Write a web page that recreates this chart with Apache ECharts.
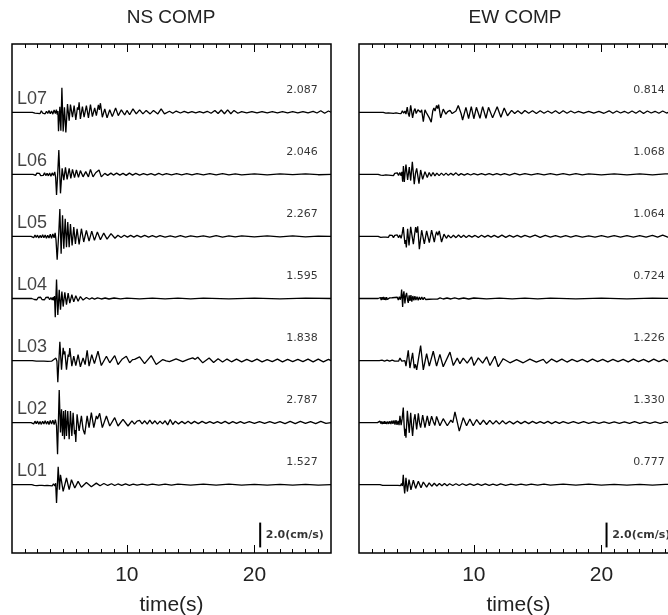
<!DOCTYPE html>
<html><head><meta charset="utf-8">
<script src="https://cdn.jsdelivr.net/npm/echarts@6/dist/echarts.min.js"></script>
<style>html,body{margin:0;padding:0;background:#fff}#c{width:668px;height:615px}</style>
</head><body><div id="c"></div>
<script>
// ---------------- data ----------------
const stations = ['L01','L02','L03','L04','L05','L06','L07'];
const nsPeaks = [1.527, 2.787, 1.838, 1.595, 2.267, 2.046, 2.087];
const ewPeaks = [0.777, 1.330, 1.226, 0.724, 1.064, 1.068, 0.814];
const panelTitles = ['NS COMP', 'EW COMP'];
const majorTicks = [10, 20];
const minorTicks = [2,3,4,5,6,7,8,9,11,12,13,14,15,16,17,18,19,21,22,23,24,25];
const scaleBarValue = 2.0;
const scaleBarText = '2.0(cm/s)';
const axisTitle = 'time(s)';
const traceSpacing = 5; // cm/s between trace baselines

// traces: flat [time(s), velocity(cm/s), ...]
const ns_L07 = [1,0, 2.6,0, 2.7,0.08, 2.8,-0.06, 2.9,0.1, 3.0,-0.08, 3.1,0.07, 3.2,-0.1, 3.3,0.12, 3.4,-0.06, 3.5,0.1, 3.6,-0.12, 3.7,0.08, 3.8,-0.1, 3.9,0.15, 4.0,-0.12, 4.1,0.1, 4.2,-0.15, 4.3,0.18, 4.4,-0.1, 4.48,0.22, 4.55,-0.2, 4.6,0.1,
 4.645,-1.53, 4.75,0.45, 4.83,-1.48, 4.91,1.98, 5.01,-1.55, 5.11,0.4, 5.22,-1.62, 5.35,0.67, 5.48,-0.67, 5.58,0.62, 5.74,-0.4, 5.87,0.54, 6.0,-0.62, 6.13,0.4, 6.2,0.2, 6.26,0.8, 6.36,-0.54, 6.52,0.45, 6.65,-0.4, 6.83,0.54, 6.99,-0.45, 7.15,0.62, 7.3,-0.35, 7.48,0.35, 7.61,-0.27, 7.77,0.6, 7.85,0.2, 7.93,0.73, 8.08,-0.4, 8.27,0.27, 8.45,-0.45, 8.66,0.2, 8.86,-0.35, 9.12,0.35, 9.33,-0.27, 9.57,0.2, 9.83,-0.22, 10.01,0.15, 10.22,-0.2, 10.48,0.27, 10.74,-0.13, 11.0,0.2, 11.26,-0.13, 11.52,0.15, 11.83,-0.13, 12.09,0.15, 12.43,-0.13, 12.69,0.27, 12.95,-0.13, 13.34,0.08, 13.6,-0.08, 13.87,0.1,
 14.2,-0.06, 14.5,0.08, 14.8,-0.05, 15.1,0.06, 15.4,-0.05, 15.7,0.06, 16.0,-0.05, 16.3,0.08, 16.6,-0.08, 16.9,0.15, 17.15,-0.1, 17.4,0.18, 17.65,-0.12, 17.9,0.2, 18.15,-0.12, 18.4,0.15, 18.7,-0.08, 19.0,0.06, 19.4,-0.05, 19.8,0.06, 20.2,-0.05, 20.6,0.06, 21.0,-0.05, 21.4,0.05, 21.8,-0.05, 22.2,0.06, 22.6,-0.05, 23.0,0.05, 23.4,-0.05, 23.8,0.06, 24.2,-0.05, 24.6,0.08, 24.9,-0.06, 25.2,0.12, 25.5,-0.08, 25.8,0.1, 26,0];
const ns_L06 = [1,0, 2.65,0, 2.75,0.06, 2.85,-0.08, 2.95,0.1, 3.05,-0.06, 3.15,0.08, 3.25,-0.1, 3.35,0.06, 3.45,-0.08, 3.55,0.12, 3.65,-0.1, 3.75,0.08, 3.85,-0.12, 3.95,0.1, 4.05,-0.15, 4.15,0.12, 4.25,-0.1, 4.35,0.2, 4.42,-0.25,
 4.49,-1.67, 4.59,0.2, 4.67,1.96, 4.8,-1.53, 4.93,0.48, 5.06,-0.46, 5.19,0.56, 5.32,-0.4, 5.48,0.48, 5.61,-0.32, 5.74,0.4, 5.9,-0.27, 6.05,0.35, 6.21,-0.24, 6.36,0.3, 6.57,-0.2, 6.78,0.22, 6.99,-0.2, 7.15,0.4, 7.35,-0.2, 7.56,0.13, 7.7,0.05, 7.82,0.35, 8.0,-0.2, 8.27,0.08, 8.5,-0.08, 8.75,0.1, 8.95,-0.06,
 9.2,0.1, 9.45,-0.06, 9.7,0.08, 9.95,-0.08, 10.2,0.1, 10.45,-0.06, 10.7,0.08, 11.0,-0.06, 11.3,0.06, 11.6,-0.05, 11.9,0.06, 12.2,-0.06, 12.5,0.08, 12.8,-0.05, 13.1,0.06, 13.5,-0.05, 13.9,0.05, 14.3,-0.04, 14.7,0.05, 15.1,-0.04, 15.5,0.05, 16.0,-0.04, 16.5,0.05, 17.0,-0.05, 17.5,0.05, 18.0,-0.04, 18.5,0.04, 19.0,-0.04, 20,0.04, 21,-0.04, 22,0.04, 23,-0.03, 24,0.04, 25,-0.03, 26,0];
const ns_L05 = [1,0, 2.5,0, 2.6,0.08, 2.7,-0.1, 2.8,0.12, 2.9,-0.08, 3.0,0.1, 3.1,-0.12, 3.2,0.08, 3.3,-0.1, 3.4,0.14, 3.5,-0.1, 3.6,0.12, 3.7,-0.15, 3.8,0.1, 3.9,-0.12, 4.0,0.18, 4.1,-0.15, 4.2,0.2, 4.3,-0.12, 4.38,0.28, 4.45,-0.3,
 4.54,-1.88, 4.67,0.35, 4.75,2.2, 4.85,-1.4, 4.96,1.7, 5.06,-1.0, 5.17,1.42, 5.27,-0.86, 5.37,1.15, 5.48,-0.86, 5.58,1.0, 5.71,-0.73, 5.84,0.75, 5.97,-0.6, 6.1,0.62, 6.26,-0.65, 6.44,0.62, 6.62,-0.45, 6.83,0.48, 7.04,-0.38, 7.25,0.43, 7.46,-0.32, 7.69,0.35, 7.93,-0.27, 8.19,0.27, 8.45,-0.22, 8.76,0.22, 9.07,-0.15, 9.3,0.1, 9.55,-0.08, 9.8,0.1,
 10.05,-0.06, 10.3,0.08, 10.55,-0.06, 10.8,0.08, 11.1,-0.06, 11.4,0.08, 11.7,-0.05, 12.0,0.06, 12.3,-0.05, 12.6,0.06, 13.0,-0.05, 13.4,0.05, 13.8,-0.05, 14.2,0.06, 14.6,-0.05, 15.0,0.05, 15.5,-0.04, 16.0,0.05, 16.5,-0.05, 17.0,0.06, 17.5,-0.05, 18.0,0.05, 18.5,-0.04, 19,0.04, 20,-0.04, 21,0.04, 22,-0.04, 23,0.04, 24,-0.03, 25,0.03, 26,0];
const ns_L04 = [1,0, 2.55,0, 2.65,0.07, 2.75,-0.08, 2.85,0.06, 2.95,-0.1, 3.05,0.08, 3.15,-0.06, 3.25,0.1, 3.35,-0.08, 3.45,0.06, 3.55,-0.1, 3.65,0.08, 3.75,-0.06, 3.85,0.1, 3.95,-0.1, 4.05,0.08, 4.15,-0.12, 4.22,0.1, 4.28,-0.15, 4.33,0.2,
 4.39,-1.5, 4.49,1.52, 4.59,-1.32, 4.7,0.7, 4.8,-0.9, 4.91,0.56, 5.01,-0.65, 5.14,0.5, 5.27,-0.5, 5.4,0.43, 5.53,-0.38, 5.69,0.3, 5.84,-0.27, 6.0,0.22, 6.18,-0.22, 6.36,0.16, 6.57,-0.13, 6.83,0.08, 7.07,-0.06, 7.27,0.05,
 7.47,-0.05, 7.7,0.05, 8.0,-0.04, 8.3,0.04, 8.6,-0.04, 9.0,0.04, 9.5,-0.03, 10,0.03, 11,-0.03, 12,0.03, 13,-0.03, 14,0.03, 15,-0.03, 16,0.03, 18,-0.03, 20,0.03, 22,-0.03, 24,0.03, 26,0];
const ns_L03 = [1,0, 2.6,0, 2.75,0.04, 2.9,-0.05, 3.05,0.04, 3.2,-0.04, 3.35,0.05, 3.5,-0.05, 3.65,0.04, 3.8,-0.06, 3.95,0.05, 4.1,-0.05, 4.25,0.08, 4.44,0.2, 4.52,-0.05,
 4.59,-1.75, 4.75,1.52, 4.88,-0.73, 5.01,1.02, 5.08,0.5, 5.14,0.75, 5.27,-0.73, 5.4,0.48, 5.46,0.3, 5.53,1.0, 5.69,-0.45, 5.84,0.35, 6.0,-0.4, 6.18,0.48, 6.36,-0.5, 6.57,0.22, 6.73,-0.32, 6.89,0.83, 7.04,-0.45, 7.25,0.48, 7.46,-0.25, 7.74,0.75, 8.0,-0.4, 8.4,0.35, 8.66,-0.18, 9.05,0.4, 9.31,-0.32, 9.65,0.13, 9.8,0.05, 9.96,0.35, 10.22,-0.18, 10.45,0.08, 10.61,0.1, 11.0,0.3, 11.39,-0.25, 11.91,0.4, 12.3,-0.32, 12.82,0.08, 13.08,-0.02, 13.34,-0.08, 13.86,0.13, 14.38,-0.08, 14.8,0.1, 15.16,0.22, 15.36,0.1, 15.56,0.27, 15.95,-0.18,
 16.45,0.2, 16.8,-0.15, 17.15,0.15, 17.5,-0.12, 17.85,0.12, 18.2,-0.1, 18.6,0.12, 19.0,-0.1, 19.4,0.1, 19.8,-0.08, 20.2,0.12, 20.6,-0.1, 21.0,0.08, 21.4,-0.08, 21.8,0.12, 22.2,-0.1, 22.6,0.1, 23.0,-0.08, 23.4,0.1, 23.8,-0.08, 24.2,0.12, 24.6,-0.1, 25.0,0.12, 25.4,-0.1, 25.8,0.1, 26,0];
const ns_L02 = [1,0, 2.5,0, 2.6,0.08, 2.7,-0.1, 2.8,0.12, 2.9,-0.08, 3.0,0.12, 3.1,-0.12, 3.2,0.1, 3.3,-0.14, 3.4,0.12, 3.5,-0.1, 3.6,0.15, 3.7,-0.12, 3.8,0.12, 3.9,-0.15, 4.0,0.18, 4.1,-0.12, 4.2,0.2, 4.3,-0.15, 4.4,0.25, 4.49,-0.25,
 4.57,-2.55, 4.7,2.63, 4.8,-0.8, 4.88,1.07, 4.96,-1.07, 5.04,0.94, 5.11,-1.34, 5.19,1.02, 5.27,-1.07, 5.37,0.94, 5.48,-1.34, 5.58,0.94, 5.69,-1.07, 5.79,0.8, 5.9,-0.94, 5.95,-0.6, 6.0,-1.56, 6.1,0.67, 6.26,-0.67, 6.44,0.54, 6.57,-0.54, 6.63,-0.4, 6.7,-0.94, 6.89,0.54, 7.04,-0.4, 7.22,0.8, 7.41,-0.4, 7.61,0.54, 7.7,0.3, 7.87,0.75, 8.08,-0.4, 8.4,0.54, 8.66,-0.27, 9.05,0.4, 9.31,-0.27, 9.7,0.27, 10.09,-0.27, 10.4,0.15, 10.6,-0.12, 10.8,0.12,
 11.0,0.18, 11.2,-0.1, 11.4,0.15, 11.6,-0.12, 11.8,0.2, 12.0,-0.1, 12.2,0.15, 12.4,-0.12, 12.6,0.12, 12.8,-0.1, 13.0,0.15, 13.2,-0.18, 13.4,0.25, 13.6,-0.15, 13.8,0.12, 14.05,-0.1, 14.3,0.1, 14.55,-0.08, 14.8,0.12, 15.05,-0.08, 15.3,0.1, 15.6,-0.08, 15.9,0.1, 16.2,-0.06, 16.5,0.08, 16.8,-0.06, 17.1,0.08, 17.4,-0.06, 17.7,0.1, 18.0,-0.08, 18.3,0.08, 18.6,-0.06, 18.9,0.08, 19.2,-0.06, 19.6,0.08, 20.0,-0.06, 20.4,0.08, 20.8,-0.06, 21.2,0.08, 21.6,-0.06, 22.0,0.08, 22.4,-0.08, 22.8,0.1, 23.2,-0.08, 23.6,0.1, 24.0,-0.06, 24.4,0.08, 24.8,-0.08, 25.2,0.1, 25.6,-0.06, 26,0];
const ns_L01 = [1,0, 2.55,0, 2.65,0.05, 2.75,-0.06, 2.85,0.05, 2.95,-0.08, 3.05,0.06, 3.15,-0.05, 3.25,0.08, 3.35,-0.06, 3.45,0.05, 3.55,-0.08, 3.65,0.06, 3.75,-0.06, 3.85,0.08, 3.95,-0.08, 4.05,0.06, 4.15,-0.1, 4.25,0.08, 4.35,-0.1, 4.42,0.12,
 4.49,-1.48, 4.62,1.45, 4.72,-0.4, 4.8,0.8, 5.01,-0.54, 5.27,0.54, 5.48,-0.4, 5.66,0.4, 5.92,-0.27, 6.18,0.27, 6.44,-0.2, 6.83,0.18, 7.22,-0.16, 7.61,0.13, 7.9,-0.08, 8.2,0.1, 8.5,-0.06, 8.8,0.08,
 9.05,-0.06, 9.3,0.06, 9.6,-0.05, 9.9,0.06, 10.2,-0.05, 10.5,0.05, 10.8,-0.04, 11.2,0.05, 11.6,-0.04, 12,0.04, 12.5,-0.04, 13,0.04, 13.5,-0.04, 14,0.04, 15,-0.04, 16,0.04, 17,-0.03, 18,0.04, 19,-0.03, 20,0.03, 21,-0.03, 22,0.03, 23,-0.03, 24,0.03, 25,-0.03, 26,0];

const ew_L07 = [1,0, 2.9,0, 3.0,0.05, 3.1,-0.06, 3.2,0.05, 3.3,-0.05, 3.4,0.08, 3.5,-0.06, 3.6,0.05, 3.7,-0.08, 3.8,0.06, 3.9,-0.05, 4.0,0.1, 4.1,-0.08, 4.2,0.06, 4.3,-0.1, 4.4,0.12, 4.5,-0.08, 4.6,0.1, 4.68,-0.15,
 4.78,0.42, 4.86,-0.1, 4.94,-0.35, 5.05,0.55, 5.2,-0.45, 5.3,0.1, 5.39,0.3, 5.48,-0.1, 5.52,-0.15, 5.62,0.2, 5.73,0.35, 5.82,0.0, 5.91,0.2, 6.04,-0.75, 6.17,0.2, 6.26,0.0, 6.35,0.1, 6.51,-0.45, 6.58,-0.3, 6.66,-0.8, 6.78,0.1, 6.87,0.35, 6.96,0.1, 7.08,0.55, 7.16,0.3, 7.24,0.62, 7.4,-0.45, 7.6,0.25, 7.81,-0.15, 7.95,0.05, 8.13,0.15, 8.3,-0.1, 8.44,-0.25, 8.6,0.1, 8.78,0.55, 9.0,-0.1, 9.12,-0.62, 9.38,0.4, 9.59,-0.5, 9.8,0.45, 10.0,-0.52, 10.2,0.4, 10.48,-0.48, 10.69,0.45, 10.95,-0.48, 11.15,0.4, 11.47,-0.45, 11.83,0.45, 12.12,-0.4, 12.38,0.35, 12.64,-0.28, 12.96,0.15, 13.2,-0.1, 13.45,0.12, 13.74,-0.12, 14.0,0.15, 14.3,-0.08, 14.6,0.12, 14.9,-0.1, 15.2,0.12, 15.5,-0.08, 15.8,0.1, 16.1,-0.08, 16.4,0.12, 16.7,-0.1, 17.0,0.12, 17.3,-0.08, 17.6,0.1, 17.9,-0.06, 18.2,0.08, 18.6,-0.06, 19.0,0.08, 19.4,-0.06, 19.8,0.08, 20.2,-0.08, 20.6,0.12, 20.9,-0.08, 21.2,0.1, 21.5,-0.06, 21.8,0.08, 22.1,-0.08, 22.4,0.1, 22.7,-0.08, 23.0,0.12, 23.3,-0.1, 23.6,0.1, 23.9,-0.06, 24.2,0.08, 24.5,-0.08, 24.8,0.1, 25.1,-0.06, 25.4,0.06, 25.7,-0.05, 26,0];
const ew_L06 = [1,0, 2.5,0, 2.6,0.05, 2.7,-0.06, 2.8,0.05, 2.9,-0.08, 3.0,0.06, 3.1,-0.05, 3.2,0.08, 3.3,-0.06, 3.4,0.1, 3.5,-0.08, 3.6,0.06, 3.7,-0.1, 3.8,0.08, 3.9,-0.08, 4.0,0.12, 4.1,-0.1, 4.2,0.15, 4.3,-0.12, 4.36,0.2,
 4.42,-0.6, 4.48,0.67, 4.55,-0.62, 4.62,0.2, 4.68,0.78, 4.81,-0.45, 4.94,0.58, 5.05,-0.5, 5.18,1.02, 5.33,-0.8, 5.43,0.1, 5.52,0.48, 5.7,-0.75, 5.83,0.35, 5.99,-0.4, 6.17,0.22, 6.35,-0.25, 6.5,0.15, 6.65,-0.15, 6.8,0.15, 6.95,-0.12, 7.1,0.1, 7.28,-0.1, 7.46,0.1, 7.64,-0.08, 7.82,0.1, 8.0,-0.08, 8.2,0.08, 8.4,-0.06, 8.6,0.12, 8.8,-0.08, 9.0,0.06, 9.25,-0.06, 9.5,0.06, 9.75,-0.05, 10.0,0.06, 10.3,-0.05, 10.6,0.06, 10.9,-0.05, 11.2,0.06, 11.5,-0.05, 11.8,0.06, 12.1,-0.05, 12.4,0.06, 12.8,-0.06, 13.2,0.08, 13.6,-0.05, 14.0,0.05, 14.5,-0.05, 15.0,0.05, 15.5,-0.04, 16.0,0.05, 16.5,-0.05, 17.0,0.05, 17.5,-0.04, 18.0,0.05, 18.5,-0.04, 19,0.04, 20,-0.04, 21,0.04, 22,-0.04, 23,0.04, 24,-0.04, 25,0.04, 26,0];
const ew_L05 = [1,0, 2.5,0, 2.6,0.06, 2.7,-0.08, 2.8,0.06, 2.9,-0.06, 3.0,0.08, 3.1,-0.06, 3.2,0.06, 3.3,-0.08, 3.4,0.1, 3.5,-0.06, 3.6,0.08, 3.7,-0.1, 3.8,0.08, 3.9,-0.06, 4.0,0.12, 4.1,-0.1, 4.2,0.12, 4.3,-0.15, 4.38,0.2,
 4.47,0.75, 4.6,-0.6, 4.65,-0.3, 4.71,-0.88, 4.81,0.62, 4.92,-0.73, 5.05,0.78, 5.15,0.1, 5.26,-0.62, 5.35,0.1, 5.44,0.75, 5.52,0.3, 5.6,0.82, 5.73,-1.02, 5.91,0.5, 6.12,-0.6, 6.3,0.45, 6.51,-0.5, 6.69,0.5, 6.9,-0.45, 7.0,0.1, 7.08,0.38, 7.18,0.1, 7.29,0.45, 7.47,-0.45, 7.66,0.18, 7.85,-0.15, 8.0,0.1, 8.2,-0.12, 8.4,0.1, 8.6,-0.1, 8.8,0.12, 9.0,-0.08, 9.2,0.1, 9.4,-0.08, 9.6,0.08, 9.85,-0.06, 10.1,0.08, 10.35,-0.08, 10.6,0.1, 10.85,-0.06, 11.1,0.08, 11.35,-0.06, 11.6,0.08, 11.9,-0.08, 12.2,0.1, 12.5,-0.08, 12.8,0.08, 13.1,-0.06, 13.4,0.08, 13.7,-0.06, 14.0,0.08, 14.4,-0.06, 14.8,0.1, 15.2,-0.08, 15.6,0.08, 16.0,-0.06, 16.4,0.06, 16.8,-0.05, 17.2,0.06, 17.6,-0.05, 18.0,0.06, 18.5,-0.05, 19.0,0.05, 19.5,-0.05, 20.0,0.06, 20.5,-0.05, 21.0,0.06, 21.5,-0.05, 22.0,0.06, 22.5,-0.05, 23.0,0.06, 23.5,-0.05, 24.0,0.08, 24.4,-0.06, 24.8,0.1, 25.2,-0.06, 25.6,0.06, 26,0];
const ew_L04 = [1,0, 2.5,0, 2.56,0.1, 2.62,-0.1, 2.68,0.08, 2.74,-0.12, 2.8,0.1, 2.86,-0.08, 2.92,0.12, 2.98,-0.1, 3.04,0.08, 3.1,-0.12, 3.16,0.1, 3.22,-0.08, 3.28,0.06, 3.34,-0.06, 3.4,0.05, 3.5,-0.05, 3.6,0.06, 3.7,-0.06, 3.8,0.08, 3.9,-0.08, 4.0,0.1, 4.08,-0.12, 4.16,0.15, 4.24,-0.1, 4.3,0.2,
 4.34,0.72, 4.42,-0.68, 4.47,0.3, 4.52,0.58, 4.6,-0.4, 4.66,0.2, 4.73,0.45, 4.8,-0.1, 4.86,-0.35, 4.93,0.25, 5.0,-0.2, 5.07,0.28, 5.14,-0.25, 5.22,0.2, 5.3,-0.15, 5.38,0.18, 5.46,-0.12, 5.55,0.15, 5.64,-0.15, 5.73,0.12, 5.82,-0.1, 5.92,0.12, 6.02,-0.1, 6.12,0.1, 6.22,-0.08, 6.35,0.08, 6.5,-0.06, 6.65,0.06, 6.8,-0.05, 6.95,0.05, 7.15,-0.05, 7.35,0.05, 7.6,-0.04, 7.9,0.04, 8.2,-0.04, 8.5,0.05, 8.8,-0.04, 9.2,0.04, 9.6,-0.04, 10,0.04, 11,-0.03, 12,0.03, 13,-0.03, 14,0.03, 15,-0.03, 16,0.03, 18,-0.03, 20,0.03, 22,-0.03, 24,0.03, 26,0];
const ew_L03 = [1,0, 2.6,0, 2.8,0.04, 3.0,-0.04, 3.2,0.04, 3.4,-0.05, 3.6,0.04, 3.8,-0.04, 3.95,0.05, 4.1,-0.05, 4.21,0.2, 4.35,-0.05, 4.5,0.1, 4.6,0.0,
 4.68,-0.45, 4.86,0.83, 4.99,-0.6, 5.2,0.62, 5.33,-0.62, 5.42,-0.3, 5.52,-0.75, 5.83,1.2, 6.04,-0.75, 6.3,0.55, 6.51,-0.45, 6.82,0.75, 7.08,-0.45, 7.34,0.5, 7.6,-0.5, 8.13,0.68, 8.39,-0.4, 8.7,0.2, 8.91,-0.25, 9.17,0.2, 9.48,-0.2, 9.82,0.3, 10.01,-0.4, 10.35,0.22, 10.69,-0.2, 11.0,0.3, 11.26,-0.4, 11.65,0.35, 11.91,-0.5, 12.3,0.15, 12.83,-0.18, 13.35,0.08, 13.87,-0.18, 14.39,0.12, 14.9,-0.12, 15.44,0.1, 15.7,-0.22, 16.1,0.12, 16.5,-0.1, 16.9,0.12, 17.3,-0.12, 17.7,0.1, 18.1,-0.08, 18.5,0.1, 18.9,-0.1, 19.3,0.12, 19.7,-0.08, 20.1,0.1, 20.5,-0.1, 20.9,0.1, 21.3,-0.08, 21.7,0.1, 22.1,-0.1, 22.5,0.12, 22.9,-0.08, 23.3,0.1, 23.7,-0.1, 24.1,0.12, 24.5,-0.08, 24.9,0.1, 25.3,-0.12, 25.7,0.1, 26,0];
const ew_L02 = [1,0, 2.45,0, 2.52,0.1, 2.58,-0.1, 2.64,0.12, 2.7,-0.08, 2.76,0.1, 2.82,-0.12, 2.88,0.08, 2.94,-0.1, 3.0,0.12, 3.06,-0.1, 3.12,0.08, 3.18,-0.12, 3.26,0.1, 3.34,-0.1, 3.42,0.12, 3.5,-0.12, 3.58,0.15, 3.66,-0.1, 3.74,0.18, 3.82,-0.15, 3.9,0.2, 3.98,-0.18, 4.06,0.15, 4.14,-0.2, 4.21,0.55, 4.3,-0.2, 4.38,0.3,
 4.47,1.22, 4.54,-0.3, 4.6,-1.08, 4.64,-0.5, 4.68,-1.22, 4.79,0.95, 4.86,0.1, 4.94,-0.82, 5.05,0.8, 5.12,-0.2, 5.2,-1.08, 5.3,0.2, 5.39,0.68, 5.46,0.0, 5.52,-0.55, 5.65,0.75, 5.74,0.0, 5.83,-0.4, 5.99,0.6, 6.17,-0.4, 6.35,0.55, 6.51,-0.25, 6.69,0.52, 6.82,0.1, 6.95,-0.22, 7.08,0.5, 7.34,-0.25, 7.6,0.32, 7.92,-0.25, 8.2,0.2, 8.35,0.0, 8.52,0.86, 8.86,-0.68, 9.17,0.4, 9.43,-0.25, 9.69,0.3, 9.95,-0.25, 10.22,0.25, 10.5,-0.15, 10.75,0.2, 11.0,-0.15, 11.25,0.18, 11.5,-0.12, 11.75,0.15, 12.0,-0.12, 12.25,0.15, 12.5,-0.1, 12.8,0.12, 13.1,-0.1, 13.4,0.12, 13.7,-0.08, 14.0,0.1, 14.3,-0.08, 14.6,0.1, 14.9,-0.06, 15.2,0.08, 15.5,-0.06, 15.8,0.1, 16.1,-0.08, 16.4,0.08, 16.7,-0.06, 17.0,0.08, 17.4,-0.06, 17.8,0.08, 18.2,-0.06, 18.6,0.08, 19.0,-0.06, 19.4,0.06, 19.8,-0.05, 20.2,0.06, 20.6,-0.05, 21.0,0.06, 21.4,-0.05, 21.8,0.06, 22.2,-0.06, 22.6,0.08, 23.0,-0.06, 23.4,0.06, 23.8,-0.05, 24.2,0.06, 24.6,-0.05, 25.0,0.06, 25.4,-0.05, 25.8,0.05, 26,0];
const ew_L01 = [1,0, 2.65,0, 2.75,0.05, 2.85,-0.05, 2.95,0.06, 3.05,-0.05, 3.15,0.05, 3.25,-0.06, 3.35,0.05, 3.45,-0.05, 3.55,0.06, 3.65,-0.06, 3.75,0.05, 3.85,-0.05, 3.95,0.08, 4.05,-0.06, 4.15,0.06, 4.25,-0.08, 4.33,0.1, 4.4,-0.1,
 4.47,0.8, 4.53,-0.2, 4.58,-0.7, 4.68,0.55, 4.79,-0.55, 4.92,0.42, 5.07,-0.42, 5.26,0.36, 5.44,-0.3, 5.65,0.28, 5.86,-0.25, 6.04,0.22, 6.3,-0.2, 6.5,0.15, 6.7,-0.12, 6.9,0.12, 7.1,-0.1, 7.3,0.1, 7.5,-0.08, 7.7,0.1, 7.9,-0.08, 8.1,0.08, 8.35,-0.06, 8.6,0.08, 8.85,-0.06, 9.1,0.08, 9.4,-0.06, 9.7,0.06, 10.0,-0.05, 10.3,0.06, 10.6,-0.05, 10.9,0.06, 11.2,-0.05, 11.5,0.05, 11.8,-0.05, 12.1,0.06, 12.5,-0.05, 12.9,0.05, 13.3,-0.04, 13.7,0.05, 14.1,-0.04, 14.5,0.04, 15,-0.04, 15.5,0.04, 16,-0.04, 17,0.04, 18,-0.04, 19,0.04, 20,-0.03, 21,0.03, 22,-0.03, 23,0.03, 24,-0.03, 25,0.03, 26,0];

const nsTraces = [ns_L01, ns_L02, ns_L03, ns_L04, ns_L05, ns_L06, ns_L07];
const ewTraces = [ew_L01, ew_L02, ew_L03, ew_L04, ew_L05, ew_L06, ew_L07];

// ---------------- layout ----------------
const FONT = 'Liberation Sans, Arial, sans-serif';
const SMALL = 'DejaVu Sans, Verdana, sans-serif';
const grids = [
  {left: 12, top: 44, width: 319, height: 509},
  {left: 359, top: 44, width: 319, height: 509}
];
const T_MIN = 1, T_MAX = 26, Y_MIN = -5.5, Y_MAX = 35.5;

function pairs(flat, off) {
  const out = [];
  for (let i = 0; i < flat.length; i += 2) out.push([flat[i], flat[i + 1] + off]);
  return out;
}

const xAxes = [], yAxes = [], series = [];
grids.forEach((g, p) => {
  const base = {type: 'value', gridIndex: p, min: T_MIN, max: T_MAX, splitLine: {show: false},
                axisLine: {show: false, onZero: false}};
  xAxes.push(Object.assign({}, base, {
    position: 'bottom',
    axisTick: {show: true, inside: true, length: 4, customValues: minorTicks, lineStyle: {color: '#000', width: 1}},
    axisLabel: {show: true, customValues: majorTicks, margin: 12, fontSize: 21, fontFamily: FONT, color: '#222'},
    name: axisTitle, nameLocation: 'middle', nameGap: 42,
    nameTextStyle: {fontSize: 21, fontFamily: FONT, color: '#222'}
  }));
  xAxes.push(Object.assign({}, base, {
    position: 'bottom',
    axisTick: {show: true, inside: true, length: 8, customValues: majorTicks, lineStyle: {color: '#000', width: 1}},
    axisLabel: {show: false}
  }));
  xAxes.push(Object.assign({}, base, {
    position: 'top',
    axisTick: {show: true, inside: true, length: 4, customValues: minorTicks, lineStyle: {color: '#000', width: 1}},
    axisLabel: {show: false}
  }));
  xAxes.push(Object.assign({}, base, {
    position: 'top',
    axisTick: {show: true, inside: true, length: 8, customValues: majorTicks, lineStyle: {color: '#000', width: 1}},
    axisLabel: {show: false}
  }));
  yAxes.push({type: 'value', gridIndex: p, min: Y_MIN, max: Y_MAX, show: false});

  const traces = p === 0 ? nsTraces : ewTraces;
  const peaks = p === 0 ? nsPeaks : ewPeaks;
  const xi = p * 4;
  traces.forEach((tr, i) => {
    series.push({
      type: 'line', xAxisIndex: xi, yAxisIndex: p, data: pairs(tr, i * traceSpacing),
      showSymbol: false, symbol: 'none', smooth: false, clip: true, silent: true,
      lineStyle: {color: '#000', width: 1.3}, z: 3
    });
  });
  series.push({
    type: 'scatter', xAxisIndex: xi, yAxisIndex: p, symbolSize: 1, silent: true,
    itemStyle: {color: 'rgba(0,0,0,0)'},
    data: peaks.map((v, i) => ({value: [25.0, i * traceSpacing + 1.8], txt: v.toFixed(3)})),
    label: {show: true, position: 'left', distance: 0, formatter: (d) => d.data.txt,
            fontSize: 11, fontFamily: SMALL, color: '#000'}
  });
  if (p === 0) {
    series.push({
      type: 'scatter', xAxisIndex: xi, yAxisIndex: p, symbolSize: 1, silent: true,
      itemStyle: {color: 'rgba(0,0,0,0)'},
      data: stations.map((s, i) => ({value: [1.35, i * traceSpacing + 1.1], txt: s})),
      label: {show: true, position: 'right', distance: 0, formatter: (d) => d.data.txt,
              fontSize: 18, fontFamily: FONT, color: '#111'}
    });
  }
  const barT = p === 0 ? 20.45 : 20.4;
  series.push({
    type: 'line', xAxisIndex: xi, yAxisIndex: p, showSymbol: false, symbol: 'none', silent: true,
    data: [[barT, -5.05], [barT, -5.05 + scaleBarValue]],
    lineStyle: {color: '#000', width: 2}
  });
  series.push({
    type: 'scatter', xAxisIndex: xi, yAxisIndex: p, symbolSize: 1, silent: true,
    itemStyle: {color: 'rgba(0,0,0,0)'},
    data: [{value: [barT + 0.4, -5.05 + scaleBarValue / 2], txt: scaleBarText}],
    label: {show: true, position: 'right', distance: 0, formatter: (d) => d.data.txt,
            fontSize: 11, fontWeight: 'bold', fontFamily: SMALL, color: '#000'}
  });
});

const chart = echarts.init(document.getElementById('c'), null, {renderer: 'canvas'});
chart.setOption({
  animation: false,
  backgroundColor: '#fff',
  grid: grids.map(g => Object.assign({show: true, borderColor: '#000', borderWidth: 1.5, backgroundColor: 'transparent',
                                       containLabel: false, outerBoundsMode: 'none'}, g)),
  xAxis: xAxes,
  yAxis: yAxes,
  graphic: panelTitles.map((t, p) => ({
    type: 'text', x: p === 0 ? 171 : 515, y: 18,
    style: {text: t, fontSize: 19, fontFamily: FONT, fill: '#222', textAlign: 'center', textVerticalAlign: 'middle'}
  })),
  series: series
});
</script></body></html>
